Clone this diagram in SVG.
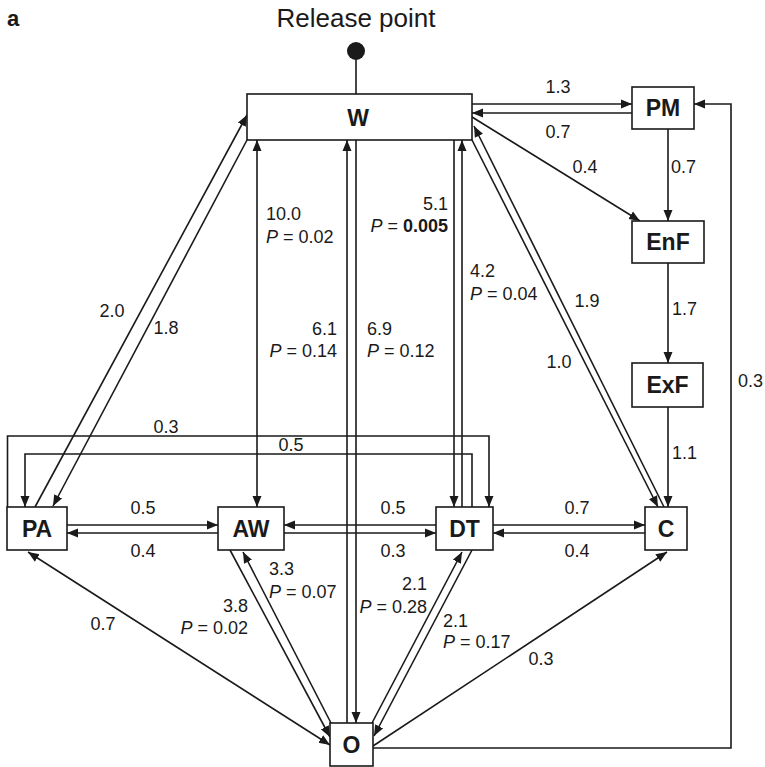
<svg xmlns="http://www.w3.org/2000/svg" width="765" height="767" viewBox="0 0 765 767">
  <style>
    .box { fill: #ffffff; stroke: #1a1a1a; stroke-width: 1.6; }
    .node { font-family: "Liberation Sans", Arial, sans-serif; font-weight: bold; font-size: 23px; fill: #1a1a1a; text-anchor: middle; }
    .lbl { font-family: "Liberation Sans", Arial, sans-serif; font-size: 18px; fill: #1a1a1a; }
    .mid { text-anchor: middle; }
    .end { text-anchor: end; }
    .it { font-style: italic; }
    .b { font-weight: bold; }
    .edge { fill: none; stroke: #1a1a1a; stroke-width: 1.6; }
    .one { marker-end: url(#head); }
    .two { marker-start: url(#head); marker-end: url(#head); }
  </style>
  <defs>
    <marker id="head" markerUnits="userSpaceOnUse" markerWidth="12" markerHeight="10" refX="11" refY="4.5" orient="auto-start-reverse" viewBox="0 0 12 9">
      <path d="M0,0 L11,4.5 L0,9 z" fill="#1a1a1a"/>
    </marker>
  </defs>
  <rect width="765" height="767" fill="#ffffff"/>

  <!-- panel letter and release point -->
  <text x="7" y="26" font-family="Liberation Sans, Arial, sans-serif" font-weight="bold" font-size="22" fill="#1a1a1a">a</text>
  <text x="356" y="27" font-family="Liberation Sans, Arial, sans-serif" font-size="26" fill="#1a1a1a" text-anchor="middle">Release point</text>
  <circle cx="356" cy="51" r="9" fill="#1a1a1a"/>
  <line x1="356" y1="58" x2="356" y2="94" class="edge"/>

  <!-- connectors -->
  <g id="connectors">
    <line class="edge one" x1="472" y1="104" x2="632" y2="104"/>
    <line class="edge one" x1="632" y1="113" x2="472" y2="113"/>
    <line class="edge one" x1="472" y1="117" x2="640" y2="221"/>
    <line class="edge one" x1="668" y1="129" x2="668" y2="221"/>
    <line class="edge one" x1="668" y1="263" x2="668" y2="363"/>
    <line class="edge one" x1="668" y1="407" x2="668" y2="507"/>
    <polyline class="edge one" points="373,748 731,748 731,104 694,104"/>
    <line class="edge one" x1="472" y1="140" x2="658" y2="507"/>
    <line class="edge one" x1="664" y1="507" x2="474" y2="126"/>
    <line class="edge one" x1="35" y1="507" x2="247" y2="115"/>
    <line class="edge one" x1="247" y1="140" x2="53" y2="506"/>
    <line class="edge two" x1="257" y1="140" x2="257" y2="507"/>
    <line class="edge one" x1="347" y1="723" x2="347" y2="140"/>
    <line class="edge one" x1="356" y1="140" x2="356" y2="723"/>
    <line class="edge one" x1="454" y1="140" x2="454" y2="507"/>
    <line class="edge one" x1="462" y1="507" x2="462" y2="140"/>
    <polyline class="edge one" points="7.5,507 7.5,436 489,436 489,507"/>
    <polyline class="edge one" points="472,507 472,454 25,454 25,507"/>
    <line class="edge one" x1="67" y1="525" x2="218" y2="525"/>
    <line class="edge one" x1="218" y1="533" x2="67" y2="533"/>
    <line class="edge one" x1="436" y1="525" x2="284" y2="525"/>
    <line class="edge one" x1="284" y1="533" x2="436" y2="533"/>
    <line class="edge one" x1="493" y1="525" x2="645" y2="525"/>
    <line class="edge one" x1="645" y1="533" x2="493" y2="533"/>
    <line class="edge two" x1="28" y1="552" x2="330" y2="745"/>
    <line class="edge one" x1="230" y1="550" x2="330" y2="737"/>
    <line class="edge one" x1="331" y1="723" x2="243" y2="552"/>
    <line class="edge one" x1="372" y1="723" x2="462" y2="552"/>
    <line class="edge one" x1="472" y1="550" x2="374" y2="736"/>
    <line class="edge one" x1="373" y1="746" x2="667" y2="552"/>
  </g>

  <!-- nodes -->
  <g id="W"><rect class="box" x="247" y="94" width="225" height="46"/><text class="node" x="358" y="126" font-size="25">W</text></g>
  <g id="PM"><rect class="box" x="632" y="87" width="62" height="42"/><text class="node" x="663" y="116">PM</text></g>
  <g id="EnF"><rect class="box" x="632" y="221" width="72" height="42"/><text class="node" x="668" y="250">EnF</text></g>
  <g id="ExF"><rect class="box" x="632" y="363" width="71" height="44"/><text class="node" x="667.5" y="393">ExF</text></g>
  <g id="PA"><rect class="box" x="7" y="507" width="60" height="43"/><text class="node" x="37" y="537">PA</text></g>
  <g id="AW"><rect class="box" x="218" y="507" width="66" height="43"/><text class="node" x="251" y="537">AW</text></g>
  <g id="DT"><rect class="box" x="436" y="507" width="57" height="43"/><text class="node" x="464.5" y="537">DT</text></g>
  <g id="C"><rect class="box" x="645" y="507" width="42" height="43"/><text class="node" x="666" y="537">C</text></g>
  <g id="O"><rect class="box" x="330" y="723" width="43" height="43"/><text class="node" x="351.5" y="753">O</text></g>

  <!-- edge labels -->
  <g id="labels">
    <text class="lbl mid" x="558" y="93">1.3</text>
    <text class="lbl mid" x="558" y="138">0.7</text>
    <text class="lbl mid" x="585" y="173">0.4</text>
    <text class="lbl" x="671" y="173">0.7</text>
    <text class="lbl" x="672" y="315">1.7</text>
    <text class="lbl" x="672" y="459">1.1</text>
    <text class="lbl" x="738" y="387">0.3</text>
    <text class="lbl mid" x="587" y="307">1.9</text>
    <text class="lbl mid" x="559" y="368">1.0</text>
    <text class="lbl mid" x="112" y="317">2.0</text>
    <text class="lbl mid" x="166" y="334">1.8</text>
    <text class="lbl" x="266" y="220">10.0</text>
    <text class="lbl" x="266" y="243"><tspan class="it">P</tspan> = 0.02</text>
    <text class="lbl end" x="337" y="335">6.1</text>
    <text class="lbl end" x="337" y="357"><tspan class="it">P</tspan> = 0.14</text>
    <text class="lbl" x="367" y="335">6.9</text>
    <text class="lbl" x="367" y="357"><tspan class="it">P</tspan> = 0.12</text>
    <text class="lbl end" x="448" y="210">5.1</text>
    <text class="lbl end" x="448" y="232"><tspan class="it">P</tspan> = <tspan class="b">0.005</tspan></text>
    <text class="lbl" x="470" y="277">4.2</text>
    <text class="lbl" x="470" y="300"><tspan class="it">P</tspan> = 0.04</text>
    <text class="lbl mid" x="166" y="433">0.3</text>
    <text class="lbl mid" x="291" y="451">0.5</text>
    <text class="lbl mid" x="143" y="514">0.5</text>
    <text class="lbl mid" x="143" y="557">0.4</text>
    <text class="lbl mid" x="393" y="514">0.5</text>
    <text class="lbl mid" x="393" y="557">0.3</text>
    <text class="lbl mid" x="577" y="514">0.7</text>
    <text class="lbl mid" x="577" y="557">0.4</text>
    <text class="lbl mid" x="103" y="630">0.7</text>
    <text class="lbl" x="269" y="575">3.3</text>
    <text class="lbl" x="269" y="598"><tspan class="it">P</tspan> = 0.07</text>
    <text class="lbl end" x="248" y="612">3.8</text>
    <text class="lbl end" x="248" y="634"><tspan class="it">P</tspan> = 0.02</text>
    <text class="lbl end" x="427" y="590">2.1</text>
    <text class="lbl end" x="427" y="613"><tspan class="it">P</tspan> = 0.28</text>
    <text class="lbl" x="443" y="627">2.1</text>
    <text class="lbl" x="443" y="648"><tspan class="it">P</tspan> = 0.17</text>
    <text class="lbl mid" x="541" y="665">0.3</text>
  </g>
</svg>
